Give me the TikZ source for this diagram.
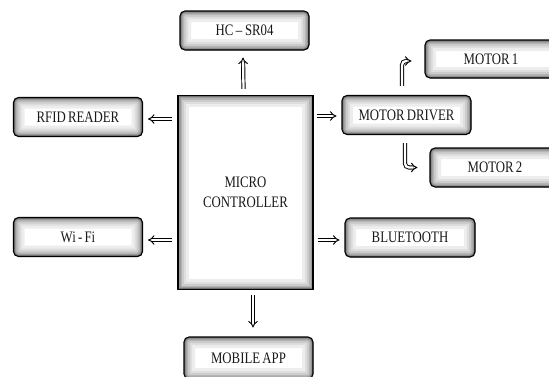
\documentclass[tikz,border=0pt]{standalone}
\usepackage{fontspec}
\setmainfont[FakeStretch=0.8, WordSpace=0.7]{Liberation Serif}
\usetikzlibrary{arrows.meta}
\tikzset{
  shade in/.style={path picture={
    \foreach \bw/\bc in {22/7,16/13,12/20,8/29,5/40,2.5/55}
      \draw[line width=\bw pt, black!\bc]
        (path picture bounding box.south west) rectangle (path picture bounding box.north east);
  }},
  blk/.style={draw=black, line width=1.1pt, fill=white, rounded corners=5pt, shade in,
    minimum width=129pt, minimum height=39pt, inner sep=0pt,
    font=\fontsize{16}{18}\selectfont, text=black!90},
  dbl/.style={draw=black, double=white, double distance=2.3pt, line width=0.95pt,
    -{Implies}},
}
\begin{document}
\begin{tikzpicture}[x=1pt,y=-1pt]
\useasboundingbox (0,0) rectangle (549,376);
\clip (0,0) rectangle (549,376);
\fill[white] (0,0) rectangle (549,376);

\node[blk, rounded corners=0pt, minimum width=135pt, minimum height=194pt, align=center,
      font=\fontsize{16}{20}\selectfont] (mc) at (245.5,192.5) {MICRO\\CONTROLLER};

\node[blk] (hc) at (244.5,30.5) {HC\,–\,SR04};
\node[blk] (rfid) at (78,117) {RFID READER};
\node[blk] (wifi) at (78,237) {Wi - Fi};
\node[blk] (md) at (406.5,115) {MOTOR DRIVER};
\node[blk, minimum width=140pt, minimum height=38pt] (m1) at (495,59) {MOTOR 1\hspace*{8pt}};
\node[blk, minimum width=140pt, minimum height=39pt] (m2) at (500,167.5) {MOTOR 2\hspace*{10pt}};
\node[blk, minimum width=130pt] (bt) at (410,237.5) {BLUETOOTH};
\node[blk, minimum height=42pt] (app) at (248.5,358) {MOBILE APP};

\draw[dbl] ([xshift=-2pt,yshift=6pt]mc.north) -- ([xshift=-1.5pt,yshift=-7pt]hc.south);
\draw[dbl] ([xshift=-5pt,yshift=-2pt]mc.west |- rfid.east) -- ([xshift=5pt,yshift=-2pt]rfid.east);
\draw[dbl] ([xshift=-5pt,yshift=-3pt]mc.west |- wifi.east) -- ([xshift=5pt,yshift=-3pt]wifi.east);
\draw[dbl] ([xshift=3pt,yshift=-1pt]mc.east |- md.west) -- ([xshift=-5pt,yshift=-1pt]md.west);
\draw[dbl] ([xshift=4pt,yshift=-2.5pt]mc.east |- bt.west) -- ([xshift=-5pt,yshift=-2.5pt]bt.west);
\draw[dbl] ([xshift=7.5pt,yshift=-5pt]mc.south) -- ([xshift=4.5pt,yshift=9pt]app.north);
\draw[dbl, rounded corners=4pt] ([xshift=-4.5pt,yshift=9pt]md.north) |- ([xshift=-13pt,yshift=-2pt]m1.west);
\draw[dbl, rounded corners=4pt] ([xshift=-1.5pt,yshift=-8pt]md.south) |- ([xshift=-12pt]m2.west);
\end{tikzpicture}
\end{document}
